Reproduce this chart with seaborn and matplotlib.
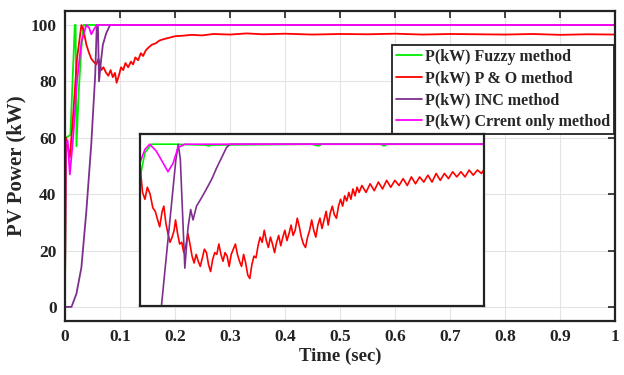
import pandas as pd
import matplotlib
matplotlib.use("Agg")
import matplotlib.pyplot as plt
import seaborn as sns

# main plot data (time in sec, power in kW)
fuzzy_t = [0.0, 0.002, 0.010, 0.018, 0.0195, 0.021, 0.025, 0.030, 0.034, 0.2, 0.5, 1.0]
fuzzy_p = [0, 60, 61, 100, 100, 57, 76, 92, 100, 100, 100, 100]

po_t = [0.0, 0.002, 0.006, 0.009, 0.015, 0.022, 0.030, 0.034, 0.039, 0.044, 0.048,
        0.052, 0.057, 0.061, 0.066, 0.070, 0.075, 0.079, 0.083, 0.087, 0.091, 0.094,
        0.098, 0.102, 0.106, 0.110, 0.115, 0.120, 0.124, 0.128, 0.133, 0.138, 0.142,
        0.147, 0.152, 0.158, 0.165, 0.172, 0.180, 0.190, 0.200, 0.215, 0.230, 0.250,
        0.270, 0.300, 0.330, 0.360, 0.400, 0.450, 0.500, 0.550, 0.600, 0.650, 0.700,
        0.750, 0.800, 0.850, 0.900, 0.950, 1.0]
po_p = [0, 60, 56, 53, 68, 88, 100, 98, 93, 90, 88,
        87, 86, 88, 84, 85, 83, 82, 84, 81.5, 83, 79.5,
        82, 85, 84, 86.5, 85, 87, 86, 88.5, 87.5, 90, 89,
        91, 92, 93, 93.5, 94.5, 95, 95.5, 96, 96.2, 96.5, 96.3,
        96.8, 96.6, 97, 96.7, 96.9, 96.6, 96.8, 96.7, 96.9, 96.6, 96.8,
        96.7, 96.6, 96.8, 96.5, 96.7, 96.6]

inc_t = [0.0, 0.012, 0.021, 0.030, 0.039, 0.048, 0.055, 0.058, 0.060, 0.062, 0.066,
         0.069, 0.075, 0.082, 0.2, 0.5, 1.0]
inc_p = [0, 0, 4.7, 14, 34, 58, 82, 100, 100, 80, 88, 93, 97, 100, 100, 100, 100]

cur_t = [0.0, 0.0015, 0.005, 0.009, 0.015, 0.022, 0.030, 0.039, 0.044, 0.048, 0.053,
         0.058, 0.2, 0.5, 1.0]
cur_p = [0, 58, 59, 47, 60, 80, 94, 100, 99, 96.7, 98.5, 100, 100, 100, 100]

# inset (zoomed view, normalised units, no ticks)
in_fuzzy_x = [0.0, 0.005, 0.015, 0.034, 0.1, 0.19, 0.2, 0.21, 0.5, 0.52, 0.53, 0.7, 0.71, 0.72, 1.0]
in_fuzzy_y = [0.73, 0.79, 0.89, 0.94, 0.94, 0.935, 0.93, 0.935, 0.94, 0.93, 0.94, 0.94, 0.93, 0.94, 0.94]

in_po_x = [0.000, 0.008, 0.015, 0.022, 0.030, 0.038, 0.045, 0.052, 0.058, 0.065, 0.070,
           0.076, 0.082, 0.088, 0.094, 0.100, 0.104, 0.110, 0.116, 0.122, 0.128, 0.134,
           0.140, 0.146, 0.152, 0.158, 0.164, 0.170, 0.176, 0.182, 0.188, 0.194, 0.200,
           0.206, 0.212, 0.218, 0.224, 0.230, 0.236, 0.242, 0.248, 0.254, 0.260, 0.266,
           0.272, 0.278, 0.284, 0.290, 0.296, 0.302, 0.308, 0.314, 0.320, 0.326, 0.332,
           0.338, 0.344, 0.350, 0.356, 0.362, 0.368, 0.374, 0.380, 0.386, 0.392, 0.398,
           0.404, 0.410, 0.416, 0.422, 0.428, 0.434, 0.440, 0.446, 0.452, 0.458, 0.464,
           0.470, 0.476, 0.482, 0.488, 0.494, 0.500, 0.506, 0.512, 0.518, 0.524, 0.530,
           0.536, 0.542, 0.548, 0.554, 0.560, 0.566, 0.572, 0.578, 0.584, 0.590, 0.596,
           0.602, 0.608, 0.614, 0.620, 0.626, 0.632, 0.638, 0.646, 0.658, 0.670, 0.682,
           0.694, 0.706, 0.718, 0.730, 0.742, 0.754, 0.766, 0.778, 0.790, 0.802, 0.814,
           0.826, 0.838, 0.850, 0.862, 0.874, 0.886, 0.898, 0.910, 0.922, 0.934, 0.946,
           0.958, 0.970, 0.982, 0.994, 1.0]
in_po_y = [0.83, 0.66, 0.62, 0.69, 0.65, 0.57, 0.55, 0.50, 0.46, 0.55, 0.58,
           0.48, 0.42, 0.37, 0.40, 0.44, 0.50, 0.42, 0.36, 0.37, 0.31, 0.35,
           0.42, 0.36, 0.29, 0.25, 0.30, 0.26, 0.23, 0.28, 0.33, 0.31, 0.24,
           0.20, 0.27, 0.31, 0.30, 0.36, 0.30, 0.26, 0.31, 0.29, 0.23, 0.30,
           0.33, 0.36, 0.30, 0.26, 0.23, 0.30, 0.25, 0.18, 0.16, 0.24, 0.29,
           0.28, 0.35, 0.40, 0.37, 0.44, 0.38, 0.34, 0.40, 0.36, 0.31, 0.37,
           0.41, 0.35, 0.40, 0.44, 0.38, 0.42, 0.47, 0.41, 0.44, 0.51, 0.46,
           0.40, 0.36, 0.34, 0.40, 0.44, 0.50, 0.44, 0.40, 0.47, 0.51, 0.45,
           0.50, 0.55, 0.47, 0.54, 0.58, 0.53, 0.51, 0.58, 0.62, 0.58, 0.64,
           0.61, 0.66, 0.62, 0.68, 0.64, 0.69, 0.66, 0.70, 0.66, 0.71, 0.67,
           0.72, 0.68, 0.73, 0.69, 0.73, 0.70, 0.74, 0.70, 0.75, 0.71, 0.75,
           0.72, 0.76, 0.72, 0.77, 0.73, 0.77, 0.74, 0.78, 0.75, 0.78, 0.75,
           0.79, 0.76, 0.79, 0.77, 0.79]

in_inc_x = [0.063, 0.105, 0.112, 0.118, 0.131, 0.140, 0.148, 0.155, 0.165, 0.180,
            0.194, 0.210, 0.223, 0.240, 0.252, 0.262, 0.5, 1.0]
in_inc_y = [0.0, 0.85, 0.94, 0.85, 0.22, 0.45, 0.56, 0.50, 0.58, 0.63,
            0.68, 0.74, 0.80, 0.87, 0.92, 0.94, 0.94, 0.94]

in_cur_x = [0.0, 0.015, 0.029, 0.048, 0.068, 0.082, 0.097, 0.111, 0.131, 0.5, 1.0]
in_cur_y = [0.83, 0.91, 0.94, 0.90, 0.83, 0.78, 0.83, 0.92, 0.94, 0.94, 0.94]

labels = ["P(kW) Fuzzy method", "P(kW) P & O method",
          "P(kW) INC method", "P(kW) Crrent only method"]
colors = ["#00ee00", "#ff0000", "#7e2f8e", "#ff00ff"]

sns.set_style("whitegrid")
plt.rcParams['font.family'] = ['Liberation Serif', 'DejaVu Serif']
plt.rcParams['font.weight'] = 'bold'

fig = plt.figure(figsize=(6.24, 3.75), dpi=100)
ax = fig.add_axes([0.104, 0.144, 0.882, 0.827])

series = [(fuzzy_t, fuzzy_p), (po_t, po_p), (inc_t, inc_p), (cur_t, cur_p)]
for (t, p), lab, c in zip(series, labels, colors):
    sns.lineplot(x=t, y=p, ax=ax, color=c, label=lab, linewidth=1.3,
                 estimator=None, sort=False)

ax.set_xlim(0, 1)
ax.set_ylim(-5, 105)
ax.set_xticks([0, 0.1, 0.2, 0.3, 0.4, 0.5, 0.6, 0.7, 0.8, 0.9, 1])
ax.set_xticklabels(["0", "0.1", "0.2", "0.3", "0.4", "0.5", "0.6", "0.7", "0.8", "0.9", "1"])
ax.set_yticks([0, 20, 40, 60, 80, 100])
ax.tick_params(direction='in', length=5, width=1.2, top=True, right=True,
               labelsize=12.5, colors='#222222', pad=6)
ax.grid(True, color='#e4e4e4', linewidth=0.8)
for s in ax.spines.values():
    s.set_color('#222222')
    s.set_linewidth(1.6)
ax.set_xlabel("Time (sec)", fontsize=13.5, fontweight='bold', labelpad=2)
ax.set_ylabel("PV Power (kW)", fontsize=15, fontweight='bold', labelpad=3)

leg = ax.legend(loc='upper right', bbox_to_anchor=(0.998, 0.89), borderaxespad=0,
                fontsize=11.5, handlelength=1.6, handletextpad=0.2, labelspacing=0.35,
                borderpad=0.25, fancybox=False, framealpha=1, edgecolor='#222222')
leg.get_frame().set_linewidth(1.3)
for h in leg.get_lines():
    h.set_linewidth(1.3)

# inset
ins = fig.add_axes([0.224, 0.184, 0.551, 0.459])
ins_series = [(in_fuzzy_x, in_fuzzy_y), (in_po_x, in_po_y),
              (in_inc_x, in_inc_y), (in_cur_x, in_cur_y)]
for (x, y), c in zip(ins_series, colors):
    sns.lineplot(x=x, y=y, ax=ins, color=c, linewidth=1.2, estimator=None, sort=False)
ins.set_xlim(0, 1)
ins.set_ylim(0, 1)
ins.set_xticks([])
ins.set_yticks([])
ins.grid(False)
ins.set_facecolor('white')
for s in ins.spines.values():
    s.set_color('#222222')
    s.set_linewidth(1.6)

fig.savefig("out.png", dpi=100)
